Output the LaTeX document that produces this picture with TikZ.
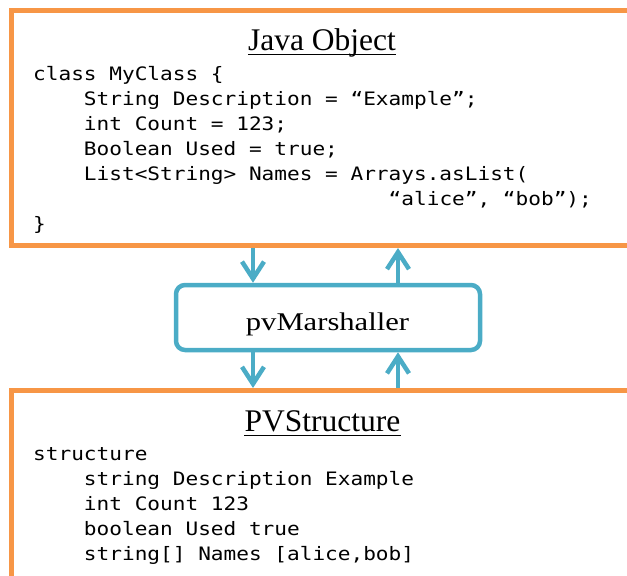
\documentclass[tikz,border=0pt]{standalone}
\usepackage{fontspec}
\setmainfont{Liberation Serif}
\newfontfamily\codefont[FakeStretch=1.14]{DejaVu Sans Mono}
\newfontfamily\marshfont[FakeStretch=1.2]{Liberation Serif}
\usetikzlibrary{arrows.meta}

\definecolor{boxorange}{RGB}{247,150,70}
\definecolor{linkblue}{RGB}{75,172,198}

\newcommand{\pad}[1]{\hspace*{#1\fontcharwd\font`\x}}

\tikzset{
    objbox/.style={draw=boxorange, line width=5pt, anchor=north west, inner sep=0pt, minimum width=700pt},
    marshbox/.style={draw=linkblue, line width=4.5pt, rounded corners=9pt, minimum width=304pt, minimum height=65pt, inner sep=0pt},
    flow/.style={draw=linkblue, line width=4.5pt, -{Straight Barb[length=17pt,width=22pt]}},
    boxtitle/.style={font=\fontsize{31.5}{36}\selectfont, anchor=base, inner sep=0pt},
    code/.style={font=\codefont\fontsize{18.5}{25}\selectfont, align=left, anchor=base west, inner sep=0pt},
}

\begin{document}
\begin{tikzpicture}[x=1pt,y=-1pt]
    \useasboundingbox (0,0) rectangle (627,576);
    \clip (0,0) rectangle (627,576);

    %% columns of the arrows
    \coordinate (dn) at (253,0);
    \coordinate (up) at (398,0);

    %% boxes
    \node[objbox, minimum height=235pt] (jobj) at (9,8) {};
    \node[objbox, minimum height=250pt] (pvs) at (9,388) {};
    \node[marshbox] (marsh) at (328,317.5) {};

    %% titles
    \node[boxtitle] (jtitle) at (322,50) {Java Object};
    \draw[line width=1.8pt] ([yshift=-4.5pt]jtitle.base west) -- ([yshift=-4.5pt]jtitle.base east);
    \node[boxtitle] (ptitle) at (322.5,431) {PVStructure};
    \draw[line width=1.8pt] ([yshift=-4.5pt]ptitle.base west) -- ([yshift=-4.5pt]ptitle.base east);
    \node[font=\marshfont\fontsize{25.5}{30}\selectfont, anchor=base, inner sep=0pt] (mtext) at (327.5,330.5) {pvMarshaller};

    %% code (base = last line)
    \node[code] (jcode) at (33,230) {class MyClass \{\\
        \pad{4}String Description = “Example”;\\
        \pad{4}int Count = 123;\\
        \pad{4}Boolean Used = true;\\
        \pad{4}List<String> Names = Arrays.asList(\\
        \pad{28}“alice”, “bob”);\\
        \}};
    \node[code] (pcode) at (33,560) {structure\\
        \pad{4}string Description Example\\
        \pad{4}int Count 123\\
        \pad{4}boolean Used true\\
        \pad{4}string[] Names [alice,bob]};

    %% arrows
    \draw[flow] (jobj.south -| dn) -- (marsh.north -| dn);
    \draw[flow] (marsh.north -| up) -- (jobj.south -| up);
    \draw[flow] (marsh.south -| dn) -- (pvs.north -| dn);
    \draw[flow] (pvs.north -| up) -- (marsh.south -| up);
\end{tikzpicture}
\end{document}
